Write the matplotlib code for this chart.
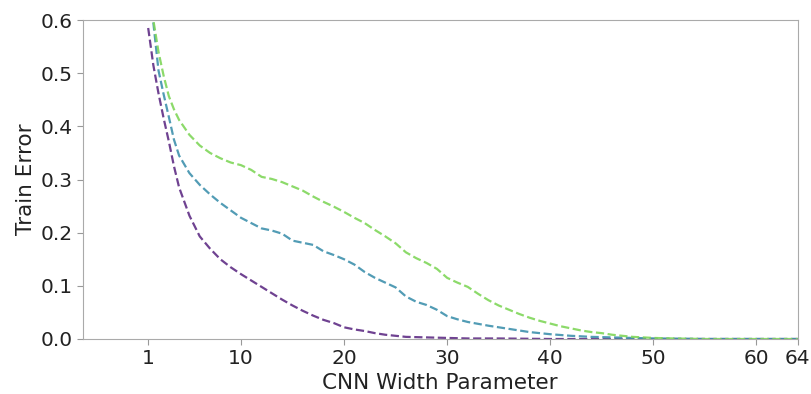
import matplotlib
matplotlib.use("Agg")
import matplotlib.pyplot as plt

# Data
x_purple = [1, 1.5, 2, 2.5, 3, 3.5, 4, 5, 6, 7, 8, 9, 10, 11, 12, 13, 14, 15, 16, 17, 18, 19, 20,
            21, 22, 23, 24, 25, 26, 28, 30, 32, 35, 40, 45, 50, 55, 60, 64]
y_purple = [0.585, 0.515, 0.462, 0.415, 0.372, 0.325, 0.285, 0.232, 0.193, 0.170, 0.150, 0.135,
            0.122, 0.110, 0.098, 0.086, 0.074, 0.063, 0.053, 0.044, 0.036, 0.030, 0.022,
            0.018, 0.015, 0.011, 0.008, 0.006, 0.004, 0.003, 0.002, 0.001, 0.001,
            0.0, 0.0, 0.0, 0.0, 0.0, 0.0]

x_teal = [1, 1.5, 2, 2.5, 3, 3.5, 4, 5, 6, 7, 8, 9, 10, 11, 12, 13, 14, 15, 16, 17, 18, 19, 20,
          21, 22, 23, 24, 25, 26, 27, 28, 29, 30, 31, 32, 34, 36, 38, 40, 42, 44,
          46, 48, 50, 55, 60, 64]
y_teal = [0.69, 0.595, 0.505, 0.460, 0.418, 0.375, 0.345, 0.312, 0.290, 0.272, 0.256, 0.242,
          0.228, 0.218, 0.208, 0.204, 0.198, 0.185, 0.181, 0.177, 0.165, 0.158, 0.150,
          0.140, 0.126, 0.115, 0.106, 0.097, 0.080, 0.070, 0.064, 0.055, 0.043,
          0.037, 0.032, 0.025, 0.019, 0.013, 0.009, 0.006, 0.004, 0.003, 0.002,
          0.001, 0.0, 0.0, 0.0]

x_green = [1, 1.5, 2, 2.5, 3, 3.5, 4, 5, 6, 7, 8, 9, 10, 11, 12, 13, 14, 15, 16, 17, 18, 19, 20,
           21, 22, 23, 24, 25, 26, 27, 28, 29, 30, 31, 32, 33, 34, 35, 36, 37, 38,
           39, 40, 41, 42, 43, 44, 45, 46, 47, 48, 50, 52, 55, 60, 64]
y_green = [0.66, 0.60, 0.54, 0.495, 0.457, 0.432, 0.412, 0.384, 0.364, 0.350, 0.340, 0.332,
           0.327, 0.318, 0.305, 0.301, 0.295, 0.287, 0.279, 0.268, 0.258, 0.249, 0.239,
           0.228, 0.218, 0.205, 0.193, 0.180, 0.163, 0.152, 0.143, 0.132, 0.115,
           0.106, 0.098, 0.085, 0.073, 0.063, 0.055, 0.047, 0.040, 0.034, 0.029,
           0.024, 0.020, 0.016, 0.013, 0.011, 0.008, 0.006, 0.004, 0.002, 0.001,
           0.0, 0.0, 0.0]

xticks = [1, 10, 20, 30, 40, 50, 60, 64]
yticks = [0.0, 0.1, 0.2, 0.3, 0.4, 0.5, 0.6]

fig = plt.figure(figsize=(8.11, 3.94), dpi=100)
ax = fig.add_axes([0.102, 0.1396, 0.8816, 0.8096])

series = [(x_purple, y_purple, "#5f2d85"),
          (x_teal, y_teal, "#3f91ad"),
          (x_green, y_green, "#80d65a")]
for xs, ys, c in series:
    ax.plot(xs, ys, linestyle="--", color=c, alpha=0.9, linewidth=1.6)

ax.set_xlim(-5.35, 64)
ax.set_ylim(0, 0.6)
ax.set_xticks(xticks)
ax.set_xticklabels([str(t) for t in xticks])
ax.set_yticks(yticks)
ax.set_yticklabels([f"{t:.1f}" for t in yticks])
ax.tick_params(labelsize=14.5, colors="#999999", labelcolor="#222222", length=4)
for s in ax.spines.values():
    s.set_color("#aaaaaa")
ax.set_xlabel("CNN Width Parameter", fontsize=15.5, color="#222222", labelpad=3)
ax.set_ylabel("Train Error", fontsize=15.5, color="#222222", labelpad=3)

fig.savefig("out.png", dpi=100)
